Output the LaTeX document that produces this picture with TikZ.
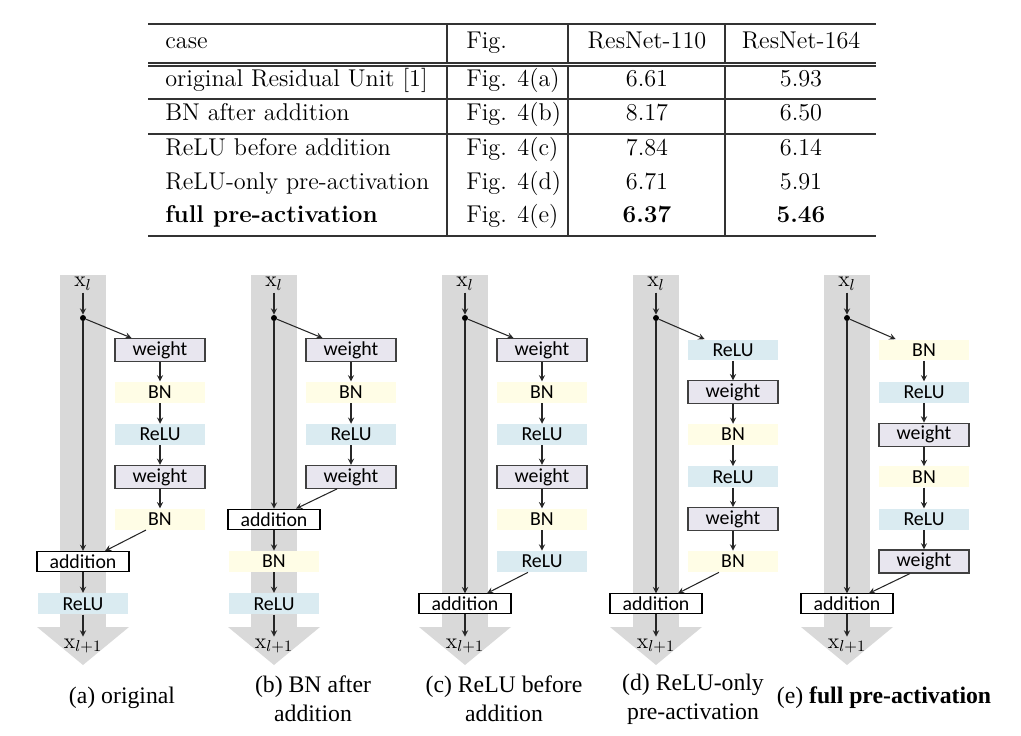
\documentclass[tikz,border=0pt]{standalone}
\usepackage{fontspec}
\usepackage{tikz}
\usetikzlibrary{
    arrows,
    calc,
    positioning
}
\newfontfamily\boxfont{Carlito}
\newfontfamily\capfont{Liberation Serif}
\definecolor{bandgray}{HTML}{D9D9D9}
\definecolor{wtfill}{HTML}{E8E6EF}
\definecolor{bnfill}{HTML}{FFFDE6}
\definecolor{relufill}{HTML}{DAEBF1}
\tikzset{
    lay/.style={inner sep=0pt, minimum width=1.8cm, minimum height=0.42cm, font=\boxfont\fontsize{11.3}{13}\selectfont},
    wtb/.style={lay, draw=black!75, line width=0.6pt, fill=wtfill, minimum height=0.46cm},
    bnb/.style={lay, fill=bnfill},
    relub/.style={lay, fill=relufill},
    addb/.style={lay, draw=black, line width=0.6pt, fill=white, minimum width=1.84cm, minimum height=0.4cm},
    flow/.style={->, >=stealth, line width=0.6pt, black!85},
    rdot/.style={inner sep=1.2pt, circle, fill=black},
    xlab/.style={inner sep=1pt, font=\fontsize{12.5}{14}\selectfont},
    cell/.style={inner sep=0pt, text height=0.7em, text depth=0.22em, font=\fontsize{13.8}{16}\selectfont},
    rule/.style={line width=0.6pt, black!80},
    capt/.style={align=center, font=\capfont\fontsize{13.5}{16.5}\selectfont}
}
\begin{document}
\begin{tikzpicture}[x=0.02cm, y=-0.02cm]
    \useasboundingbox (0,0) rectangle (1021,736);
    % table
    \foreach \ty/\ca/\fg/\va/\vb [count=\r] in {
        44/case/Fig./ResNet-110/ResNet-164,
        82/original Residual Unit [1]/Fig. 4(a)/6.61/5.93,
        116/BN after addition/Fig. 4(b)/8.17/6.50,
        151/ReLU before addition/Fig. 4(c)/7.84/6.14,
        185/ReLU-only pre-activation/Fig. 4(d)/6.71/5.91,
        218/{\bfseries full pre-activation}/Fig. 4(e)/{\bfseries 6.37}/{\bfseries 5.46}}{
        \node[cell, anchor=west] (t\r a) at (165,\ty) {\ca};
        \node[cell, anchor=west] (t\r b) at (466,\ty) {\fg};
        \node[cell] (t\r c) at (647,\ty) {\va};
        \node[cell] (t\r d) at (801,\ty) {\vb};
    }
    \foreach \ry in {24,63,66,99,134,236}
        \draw[rule] (148,\ry) -- (876,\ry);
    \foreach \rx in {447,568,725}{
        \draw[rule] (\rx,24) -- (\rx,63);
        \draw[rule] (\rx,66) -- (\rx,236);
    }
    % residual units
    \foreach \d/\mx/\nr/\ns/\chain/\stem in {
        a/83/5/2/{wtb/weight,bnb/BN,relub/ReLU,wtb/weight,bnb/BN}/{addb/addition,relub/ReLU},
        b/274/4/3/{wtb/weight,bnb/BN,relub/ReLU,wtb/weight}/{addb/addition,bnb/BN,relub/ReLU},
        c/465/6/1/{wtb/weight,bnb/BN,relub/ReLU,wtb/weight,bnb/BN,relub/ReLU}/{addb/addition},
        d/656/6/1/{relub/ReLU,wtb/weight,bnb/BN,relub/ReLU,wtb/weight,bnb/BN}/{addb/addition},
        e/847/6/1/{bnb/BN,relub/ReLU,wtb/weight,bnb/BN,relub/ReLU,wtb/weight}/{addb/addition}}{
        \fill[bandgray] (\mx-23,275) rectangle (\mx+23,627);
        \fill[bandgray] (\mx-46,627) -- (\mx+46,627) -- (\mx,665) -- cycle;
        \node[xlab] (\d x0) at (\mx,284) {$\mathrm{x}_{l}$};
        \node[rdot] (\d o) at (\mx,318) {};
        \foreach \s/\t [count=\k] in \chain {
            \node[\s] (\d r\k) at ({\mx+77},{350+42.3*(\k-1)}) {\t};
            \ifnum\k>1
                \pgfmathtruncatemacro\pk{\k-1}
                \draw[flow] (\d r\pk) -- (\d r\k);
            \fi
        }
        \foreach \s/\t [count=\k] in \stem {
            \node[\s] (\d s\k) at (\mx,{350+42.3*(\nr+\k-1)}) {\t};
            \ifnum\k>1
                \pgfmathtruncatemacro\pk{\k-1}
                \draw[flow] (\d s\pk) -- (\d s\k);
            \fi
        }
        \node[xlab] (\d x1) at (\mx,646) {$\mathrm{x}_{l+1}$};
        \draw
        (\d x0) edge[flow] (\d o)
        (\d o) edge[flow] ($(\d r1.north west)+(17,0)$)
        (\d o) edge[flow] (\d s1)
        ($(\d r\nr.south)+(-14,0)$) edge[flow] ($(\d s1.north)+(22,0)$)
        (\d s\ns) edge[flow] (\d x1);
    }
    % captions
    \node[capt] (capa) at (122,698) {(a) original};
    \node[capt] (capb) at (313,699) {(b) BN after\\addition};
    \node[capt] (capc) at (504,699) {(c) ReLU before\\addition};
    \node[capt] (capd) at (693,699) {(d) ReLU-only\\pre-activation};
    \node[capt] (cape) at (884,698) {(e) \textbf{full pre-activation}};
\end{tikzpicture}
\end{document}
